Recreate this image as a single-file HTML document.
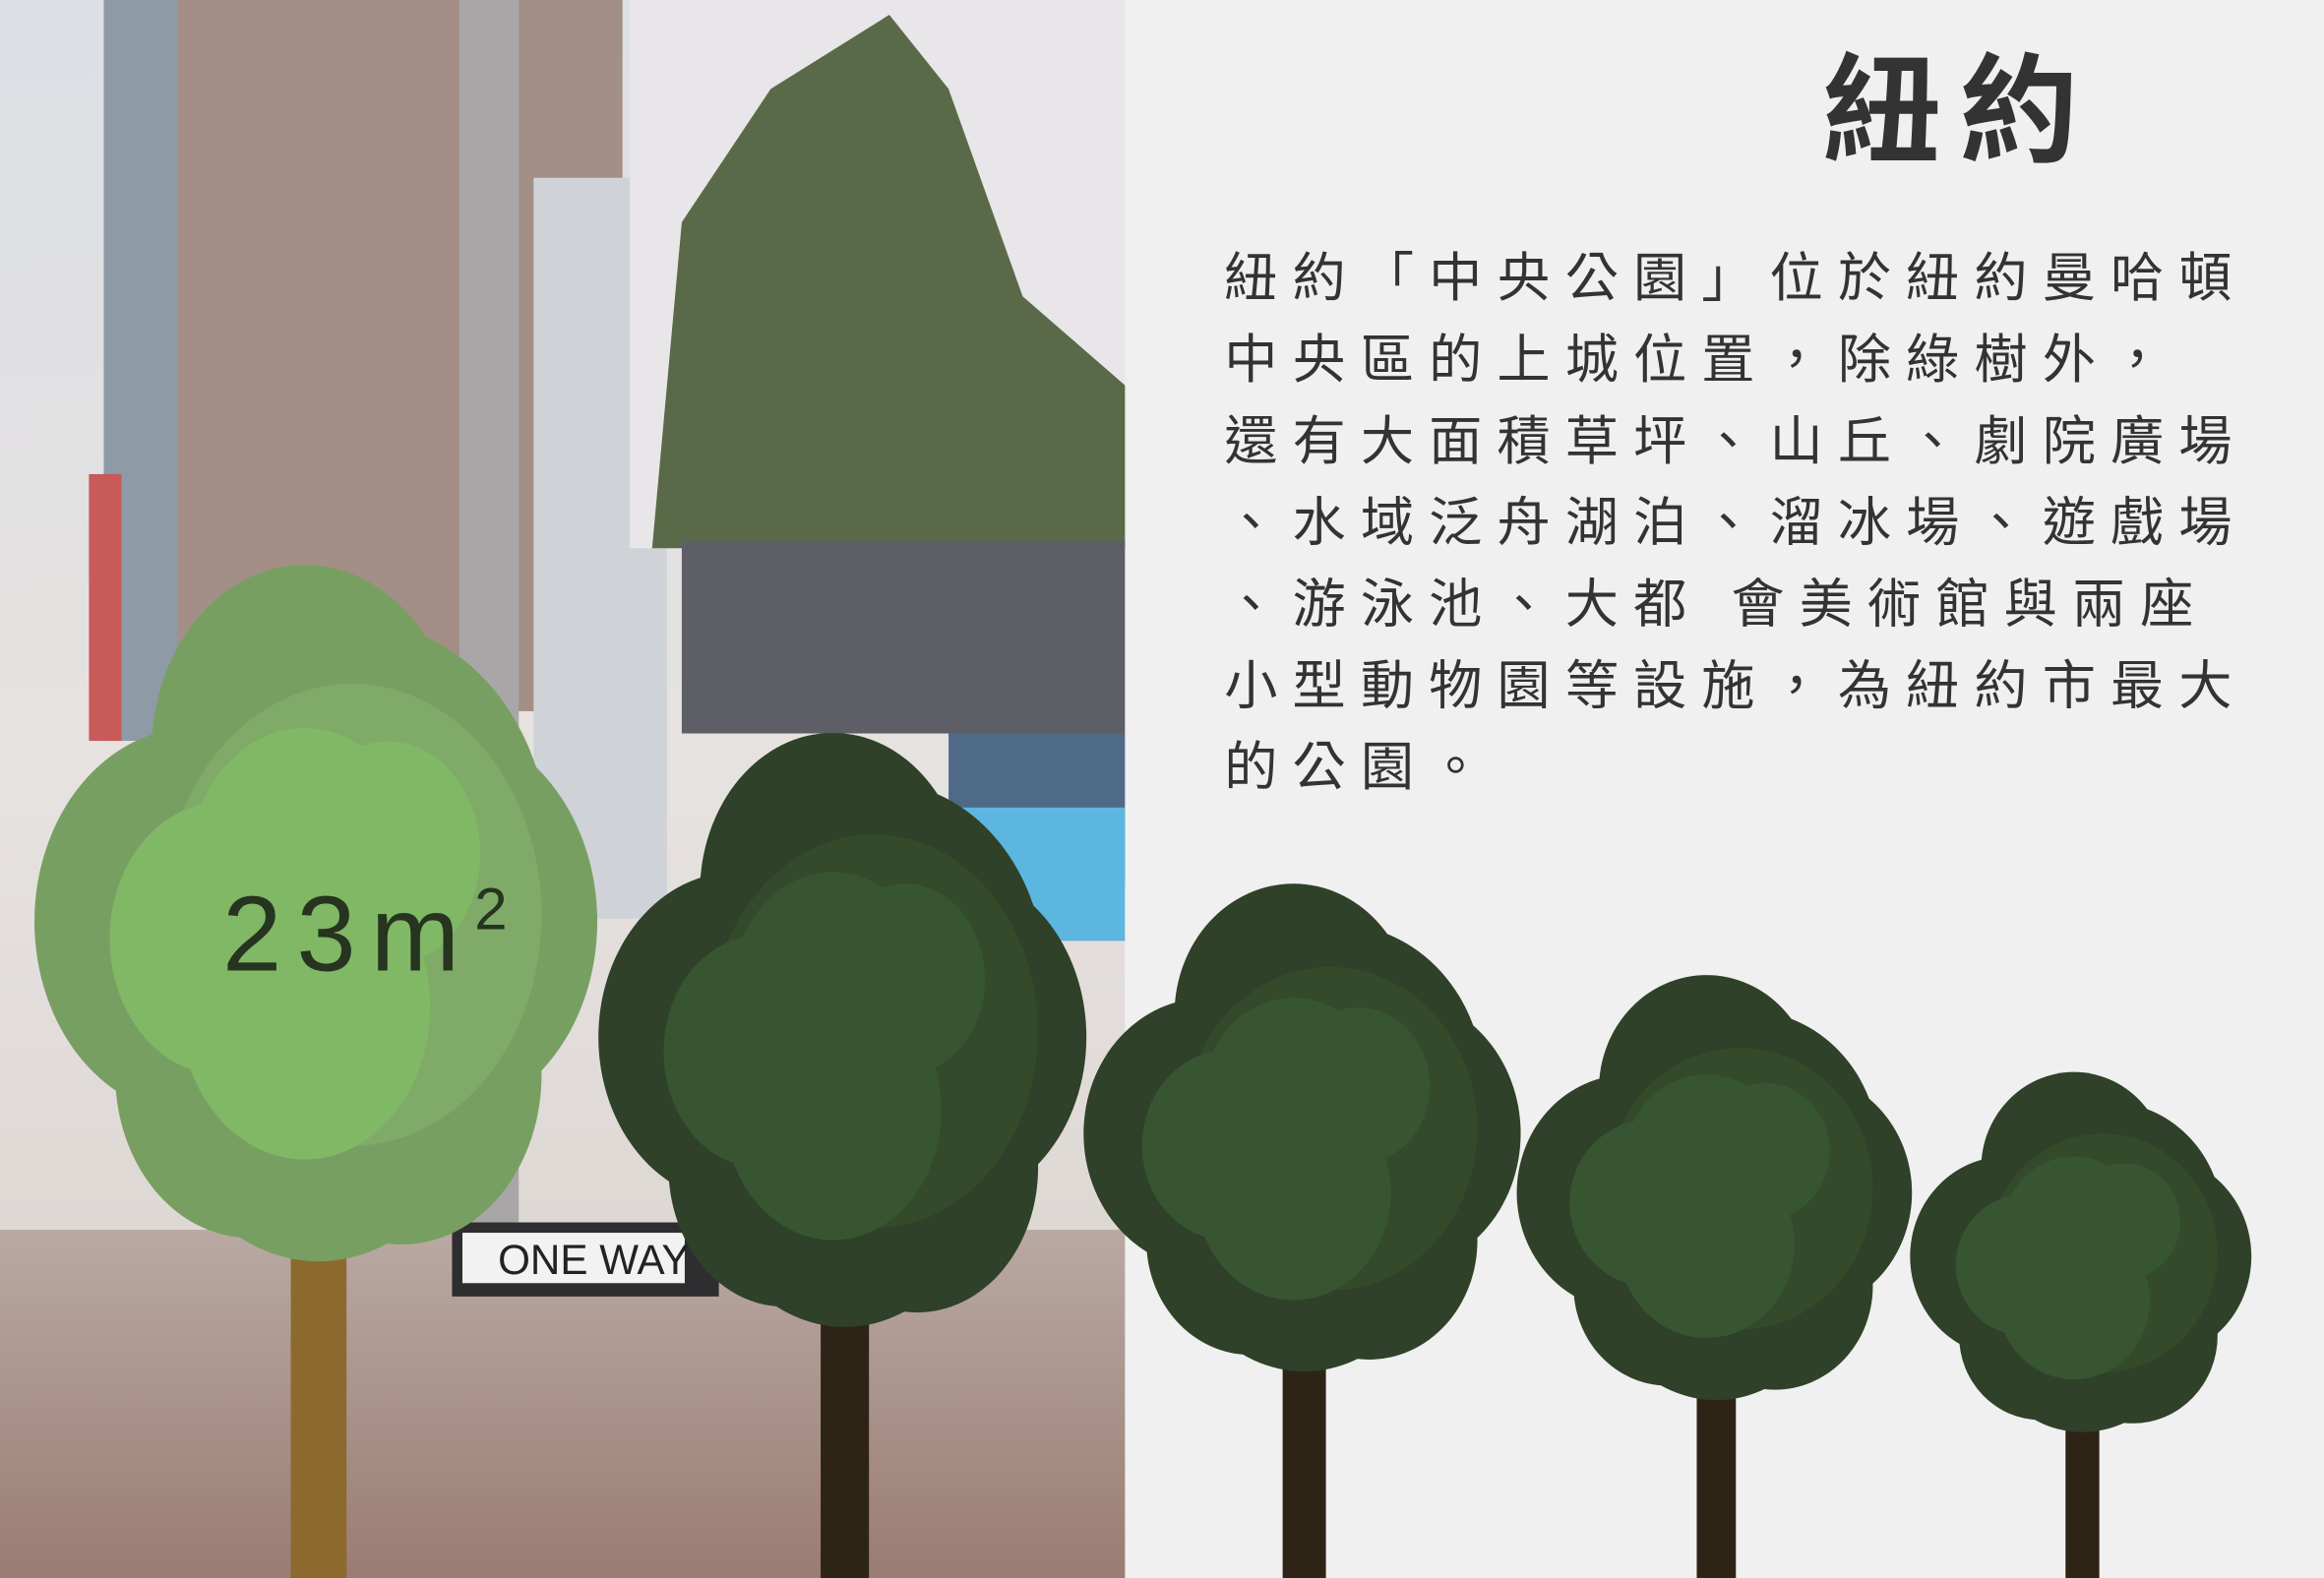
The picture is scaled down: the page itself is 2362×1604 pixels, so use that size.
<!DOCTYPE html>
<html><head><meta charset="utf-8"><style>
html,body{margin:0;padding:0;background:#f0f0f0;}
svg{display:block;}
</style></head><body>
<svg width="2362" height="1604" viewBox="0 0 1568 1065" preserveAspectRatio="none" xmlns="http://www.w3.org/2000/svg">
<defs>
<linearGradient id="sky" x1="0" y1="0" x2="0" y2="1">
<stop offset="0" stop-color="#dcdfe4"/><stop offset="0.5" stop-color="#e6e2e0"/><stop offset="1" stop-color="#d8d0cc"/>
</linearGradient>
<linearGradient id="crowd" x1="0" y1="0" x2="0" y2="1">
<stop offset="0" stop-color="#b9a9a3"/><stop offset="1" stop-color="#9a7c72"/>
</linearGradient>
</defs>
<rect x="0" y="0" width="1568" height="1065" fill="#f0f0f0"/>
<g>
<rect x="0" y="0" width="759" height="1065" fill="url(#sky)"/>
<rect x="70" y="0" width="80" height="500" fill="#8e9aa6"/>
<rect x="120" y="0" width="300" height="480" fill="#a38f85"/>
<rect x="310" y="0" width="40" height="1065" fill="#a9a6a8"/>
<rect x="360" y="120" width="90" height="500" fill="#cfd3d8"/>
<rect x="425" y="0" width="334" height="370" fill="#e8e6e8"/>
<path d="M440 370 L460 150 L520 60 L600 10 L640 60 L690 200 L759 260 L759 370 Z" fill="#5a6a48"/>
<rect x="460" y="365" width="299" height="130" fill="#5e5f66"/>
<rect x="640" y="495" width="119" height="100" fill="#4f6a86"/>
<rect x="640" y="545" width="119" height="90" fill="#5cb6e0"/>
<rect x="0" y="830" width="759" height="235" fill="url(#crowd)"/>
<rect x="305" y="825" width="180" height="50" fill="#2e2e30"/>
<rect x="312" y="832" width="150" height="34" fill="#f2f2f2"/>
<text x="336" y="860" font-family="Liberation Sans, sans-serif" font-size="28" fill="#222">ONE WAY</text>
<rect x="60" y="320" width="22" height="180" fill="#c85a5a"/>
</g>
<text x="1230" y="103" font-family="Liberation Sans, 'Noto Sans CJK TC', sans-serif" font-size="80" font-weight="bold" letter-spacing="12" fill="#333">紐約</text>
<g font-family="Liberation Sans, 'Noto Sans CJK TC', sans-serif" font-size="36" letter-spacing="10" fill="#333">
<text x="826" y="200">紐約「中央公園」位於紐約曼哈頓</text>
<text x="826" y="255">中央區的上城位置，除綠樹外，</text>
<text x="826" y="310">還有大面積草坪、山丘、劇院廣場</text>
<text x="826" y="365">、水域泛舟湖泊、溜冰場、遊戲場</text>
<text x="826" y="420">、游泳池、大都 會美術館與兩座</text>
<text x="826" y="475">小型動物園等設施，為紐約市最大</text>
<text x="826" y="530">的公園。</text>
</g>
<g id="trees"></g>
<text x="150" y="655" font-family="Liberation Sans, sans-serif" font-size="72" letter-spacing="10" fill="#263420">23m<tspan font-size="40" dy="-28">2</tspan></text>
</svg>
<script>
const treeNames=['tree-1','tree-2','tree-3','tree-4','tree-5'];
const canopySize=[188,163,146,132,114];
const canopyStretch=[1.22,1.2,1.1,1.06,1.04];
const treeX=[215,570,880,1158,1405];
const treeY=[622,700,765,805,848];
const ns='http://www.w3.org/2000/svg';
const g=document.getElementById('trees');
const ground=1065;
function mk(tag,a){const e=document.createElementNS(ns,tag);for(const k in a)e.setAttribute(k,a[k]);return e;}
treeNames.forEach((n,i)=>{
  const r=canopySize[i],sy=canopyStretch[i],cx=treeX[i],cy=treeY[i];
  const light=i===0;
  const c1=light?'#789f62':'#2f4128',c2=light?'#7faa67':'#334a2b',c3=light?'#80b865':'#385532';
  const tg=mk('g',{});
  
  
  const tw=r*0.2;
  const ty=cy+0.75*r*sy;
  const tr=mk('rect',{x:cx-tw/2,y:ty,width:tw,height:ground-ty,fill:light?'#8c6a2e':'#2e2416'});
  
  
  tg.appendChild(tr);
  const outer=[[-0.05,-0.5,0.55],[-0.45,0.0,0.57],[0.42,0.0,0.58],[0.0,0.4,0.6],[0.15,-0.2,0.68],[-0.25,0.45,0.48],[0.3,0.45,0.5]];
  outer.forEach(o=>tg.appendChild(mk('ellipse',{cx:cx+o[0]*r,cy:cy+o[1]*r*sy,rx:o[2]*r,ry:o[2]*r*sy,fill:c1})));
  tg.appendChild(mk('ellipse',{cx:cx+0.12*r,cy:cy-0.02*r*sy,rx:0.68*r,ry:0.68*r*sy,fill:c2}));
  const inner=[[-0.35,0.05,0.4],[-0.05,-0.15,0.42],[0.25,-0.2,0.33],[-0.05,0.25,0.45]];
  inner.forEach(o=>tg.appendChild(mk('ellipse',{cx:cx+o[0]*r,cy:cy+o[1]*r*sy,rx:o[2]*r,ry:o[2]*r*sy,fill:c3})));
  g.appendChild(tg);
});
</script>
</body></html>
